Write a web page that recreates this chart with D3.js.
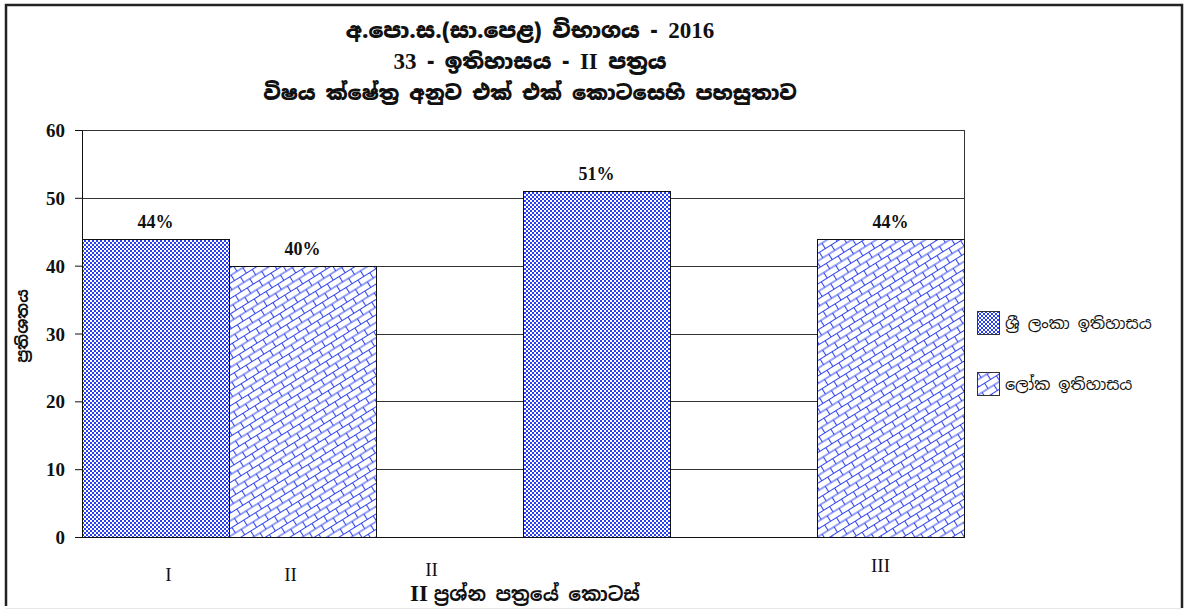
<!DOCTYPE html>
<html>
<head>
  <script src="https://d3js.org/d3.v7.min.js"></script>
  <style>
    body { margin: 0; background: #fff; }
    .sin { font-family: "Noto Sans Sinhala", "Noto Serif Sinhala", "Iskoola Pota", "Liberation Serif", serif; }
    .num { font-family: "Liberation Serif", "Times New Roman", serif; }
  </style>
</head>
<body>
<svg id="chart"></svg>
<script>
  const titleLines = ["අ.පො.ස.(සා.පෙළ) විභාගය - 2016", "33 - ඉතිහාසය - II පත්‍රය", "විෂය ක්ෂේත්‍ර අනුව එක් එක් කොටසෙහි පහසුතාව"]
  const seriesNames = ["ශ්‍රී ලංකා ඉතිහාසය", "ලෝක ඉතිහාසය"]
  const slotKeys = [0, 1, 2, 3, 4, 5]
  const barSlots = [0, 1, 3, 5]
  const barSeries = [0, 1, 0, 1]
  const barValues = [44, 40, 51, 44]
  const barText = ["44%", "40%", "51%", "44%"]
  const tickLabels = ["I", "II", "II", "III"]
  const yTicks = [0, 10, 20, 30, 40, 50, 60]
  const yTitle = "ප්‍රතිශතය"
  const xTitle = "ප්‍රශ්න පත්‍රයේ කොටස්"

  const svgwidth = 1184, svgheight = 610
  const svg = d3.select("#chart").attr("width", svgwidth).attr("height", svgheight)

  const margin = { top: 130, right: 220, bottom: 73, left: 82 }
  const width = 964 - margin.left
  const height = 537 - margin.top

  // fill patterns
  const defs = svg.append("defs")
  const dots = defs.append("pattern").attr("id", "dots")
    .attr("patternUnits", "userSpaceOnUse").attr("width", 4).attr("height", 4)
  dots.append("rect").attr("width", 4).attr("height", 4).attr("fill", "#fff")
  dots.append("rect").attr("x", 0).attr("y", 0).attr("width", 2).attr("height", 2).attr("fill", "#2a3ff0")
  dots.append("rect").attr("x", 2).attr("y", 2).attr("width", 2).attr("height", 2).attr("fill", "#2a3ff0")

  const brick = defs.append("pattern").attr("id", "brick")
    .attr("patternUnits", "userSpaceOnUse").attr("width", 14).attr("height", 13)
    .attr("patternTransform", "rotate(-32)")
  brick.append("rect").attr("width", 14).attr("height", 13).attr("fill", "#fff")
  brick.append("path")
    .attr("d", "M0,0.5H14M0,7H14M0.5,0.5V7M7.5,7V13.5")
    .attr("stroke", "#3044ee").attr("stroke-width", 1.1).attr("fill", "none")

  const fills = ["url(#dots)", "url(#brick)"]

  // outer frame
  svg.append("path").attr("d", "M6,606V5H1182V608")
    .attr("fill", "none").attr("stroke", "#222").attr("stroke-width", 2.5)
  svg.append("line").attr("x1", 6).attr("x2", 1182).attr("y1", 608.5).attr("y2", 608.5)
    .attr("stroke", "#e6e6e6")

  // title, latin parts in serif
  const title = svg.append("text").attr("text-anchor", "middle")
    .attr("font-weight", 900).attr("fill", "#111")
  titleLines.forEach((line, i) => {
    const parts = line.split(/([0-9]+|II)/).filter(p => p.length)
    parts.forEach((p, j) => {
      const latin = /^([0-9]+|II)$/.test(p)
      const ts = title.append("tspan")
        .attr("class", latin ? "num" : "sin")
        .attr("font-size", latin ? 23 : (i === 2 ? 20 : 21))
        .text(p)
      if (j === 0) ts.attr("x", 530).attr("y", 38 + i * 31)
    })
  })

  const g = svg.append("g").attr("transform", `translate(${margin.left},${margin.top})`)

  const x = d3.scaleBand().domain(slotKeys).range([0, width]).padding(0)
  const y = d3.scaleLinear().domain([0, 60]).range([height, 0])

  // gridlines
  g.selectAll(".grid").data(yTicks.filter(d => d > 0)).enter().append("line")
    .attr("x1", 0).attr("x2", width)
    .attr("y1", d => Math.round(y(d)) + 0.5).attr("y2", d => Math.round(y(d)) + 0.5)
    .attr("stroke", "#333").attr("stroke-width", 1)
  g.append("line").attr("x1", width + 0.5).attr("x2", width + 0.5).attr("y1", 0).attr("y2", height)
    .attr("stroke", "#333")

  // bars
  const bars = barValues.map((v, i) => ({ v, slot: barSlots[i], s: barSeries[i], t: barText[i] }))
  g.selectAll(".bar").data(bars).enter().append("rect")
    .attr("x", d => x(d.slot) + 0.5)
    .attr("y", d => Math.round(y(d.v)) + 0.5)
    .attr("width", x.bandwidth())
    .attr("height", d => height - Math.round(y(d.v)))
    .attr("fill", d => fills[d.s])
    .attr("stroke", "#111").attr("stroke-width", 1)

  g.selectAll(".val").data(bars).enter().append("text")
    .attr("class", "num")
    .attr("x", d => x(d.slot) + x.bandwidth() / 2)
    .attr("y", d => y(d.v) - 11)
    .attr("text-anchor", "middle")
    .attr("font-weight", "bold").attr("font-size", 18).attr("fill", "#111")
    .text(d => d.t)

  // y axis
  const yAxis = g.append("g")
    .call(d3.axisLeft(y).tickValues(yTicks).tickSize(7).tickPadding(10))
  yAxis.attr("font-family", null)
  yAxis.select(".domain").attr("stroke", "#111")
  yAxis.selectAll("line").attr("stroke", "#111")
  yAxis.selectAll("text").attr("class", "num").attr("font-size", 19).attr("font-weight", "bold")
    .attr("fill", "#111").attr("dy", "0.35em")

  // x axis line
  g.append("line").attr("x1", 0).attr("x2", width)
    .attr("y1", height + 0.5).attr("y2", height + 0.5).attr("stroke", "#111")

  // category labels (placed loosely as in the source)
  const labelShift = [[13, 44], [-12, 44], [-165, 39], [-10, 35]]
  g.selectAll(".cat").data(tickLabels).enter().append("text")
    .attr("class", "num")
    .attr("x", (d, i) => x(barSlots[i]) + x.bandwidth() / 2 + labelShift[i][0])
    .attr("y", (d, i) => height + labelShift[i][1])
    .attr("text-anchor", "middle").attr("font-size", 19).attr("fill", "#111")
    .text(d => d)

  // axis titles
  const xt = svg.append("text").attr("x", 525).attr("y", 601).attr("text-anchor", "middle")
    .attr("font-weight", "bold").attr("fill", "#111")
  xt.append("tspan").attr("class", "num").attr("font-size", 23).text("II ")
  xt.append("tspan").attr("class", "sin").attr("font-size", 19).text(" " + xTitle)

  svg.append("text").attr("class", "sin")
    .attr("transform", "translate(28,326) rotate(-90)")
    .attr("text-anchor", "middle").attr("font-weight", "bold").attr("font-size", 16).attr("fill", "#111")
    .text(yTitle)

  // legend
  const legend = svg.append("g").attr("transform", "translate(977,311)")
  const leg = legend.selectAll("g").data(seriesNames).enter().append("g")
    .attr("transform", (d, i) => `translate(0,${i * 61})`)
  leg.append("rect").attr("x", 0.5).attr("y", 0.5).attr("width", 22).attr("height", 23)
    .attr("fill", (d, i) => fills[i]).attr("stroke", "#333")
  leg.append("text").attr("class", "sin")
    .attr("x", 28).attr("y", 18).attr("font-size", 16).attr("fill", "#111")
    .text(d => d)
</script>
</body>
</html>
